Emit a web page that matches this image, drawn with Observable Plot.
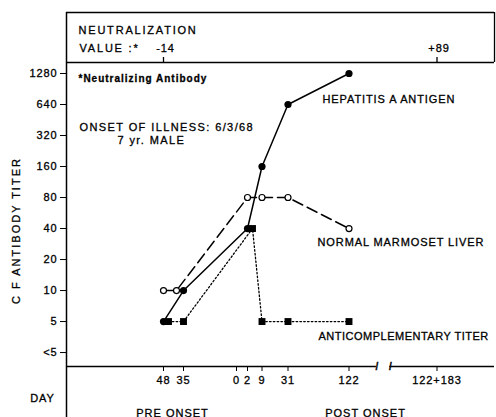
<!DOCTYPE html>
<html>
<head>
<meta charset="utf-8">
<script src="https://cdn.jsdelivr.net/npm/d3@7"></script>
<script src="https://cdn.jsdelivr.net/npm/@observablehq/plot@0.6"></script>
<style>
  body { margin: 0; background: #fff; }
  #chart svg text { letter-spacing: 0.9px; stroke: #000; stroke-width: 0.3px; }
  #chart g[aria-description="wide"] text { letter-spacing: 1.8px; }
  #chart g[aria-description="onset"] text { letter-spacing: 1.4px; }
  #chart g[aria-description="ylabel"] text { letter-spacing: 2px; }
  #chart g[aria-description="note"] text { letter-spacing: 1px; }
  #chart g[aria-description="tight"] text { letter-spacing: 0.5px; }
</style>
</head>
<body>
<div id="chart"></div>
<script>
// ---- data ----
const days = [-48, -35, 2, 9, 31, 122];               // negative = days pre onset
const hepatitisA = [5, 10, 40, 160, 640, 1280];
const marmosetLiver = [10, 10, 80, 80, 80, 40];
const anticomplementary = [5, 5, 40, 5, 5, 5];
const dayTicks = [-48, -35, 0, 2, 9, 31, 122, 305];
const dayLabels = ["48", "35", "0", "2", "9", "31", "122", "122+183"];
const titerTicks = [1280, 640, 320, 160, 80, 40, 20, 10, 5, 2.5];
const titerLabels = ["1280", "640", "320", "160", "80", "40", "20", "10", "5", "<5"];
const neutDays = [-48, 305];
const neutValues = ["-14", "+89"];

// ---- non-uniform day axis (piecewise scale) ----
const xDomain = [-111, -48, -35, 0, 2, 9, 31, 122, 305, 423];
const xRange = [66, 163, 183, 236, 247, 261.5, 287.5, 348.5, 436.5, 494];
const yDomain = [1.83, 1637];
const axisBreak = [179, 207];

const xs = Plot.scale({x: {type: "linear", domain: xDomain, range: xRange}});
const nudge = (day, px) => xs.invert(xs.apply(day) + px);

const rows = (vals) => days.map((d, i) => ({day: d, value: vals[i], i}));
const hep = rows(hepatitisA).map(r => ({...r, x: r.day}));
const mar = rows(marmosetLiver).map(r => ({...r, x: r.i === 1 ? nudge(r.day, -7) : r.day}));
const ant = rows(anticomplementary).map(r => ({...r, x: (r.i === 0 || r.i === 2) ? nudge(r.day, 5) : r.day}));

const txt = (s, o) => Plot.text([s], {text: d => d, textAnchor: "start", lineAnchor: "bottom", fill: "#000", ...o});

const chart = Plot.plot({
  width: 496,
  height: 417,
  marginLeft: 66,
  marginRight: 2,
  marginTop: 62,
  marginBottom: 51,
  style: {fontFamily: "'Liberation Sans', Arial, sans-serif", fontSize: "11px", color: "#000", background: "#fff"},
  x: {type: "linear", domain: xDomain, range: xRange, ticks: dayTicks,
      tickFormat: d => dayLabels[dayTicks.indexOf(d)], tickSize: 5, tickPadding: 5, label: null},
  y: {type: "log", base: 2, domain: yDomain, ticks: titerTicks,
      tickFormat: d => titerLabels[titerTicks.indexOf(d)], tickSize: 6, tickPadding: 3, label: null},
  marks: [
    // frame lines
    Plot.ruleX([xDomain[0]], {insetTop: -50, insetBottom: -51, strokeWidth: 1.5}),
    Plot.ruleY([yDomain[1]], {strokeWidth: 1.3}),
    Plot.ruleY([yDomain[1]], {dy: -50, strokeWidth: 1.3}),
    Plot.ruleX([xDomain[xDomain.length - 1]], {insetTop: -50, insetBottom: 304, strokeWidth: 1.3}),
    Plot.ruleX(neutDays, {insetTop: -5, insetBottom: 304, strokeWidth: 1.3}),
    Plot.ruleY([yDomain[0]], {x1: xDomain[0], x2: axisBreak[0], strokeWidth: 1.5}),
    Plot.ruleY([yDomain[0]], {x1: axisBreak[1], x2: xDomain[xDomain.length - 1], strokeWidth: 1.5}),
    Plot.text(axisBreak, {x: d => d, y: yDomain[0], text: () => "/", fontSize: 10, fontWeight: "bold", dx: 1}),
    // series
    Plot.line(hep, {x: "x", y: "value", stroke: "#000", strokeWidth: 1.5}),
    Plot.line(mar, {x: "x", y: "value", stroke: "#000", strokeWidth: 1.5, strokeDasharray: "11,5"}),
    Plot.line(ant, {x: "x", y: "value", stroke: "#000", strokeWidth: 1.3, strokeDasharray: "1.6,2.2"}),
    Plot.dot(hep, {x: "x", y: "value", r: 3.6, fill: "#000", stroke: null}),
    Plot.dot(ant, {x: "x", y: "value", r: 3.9, symbol: "square", fill: "#000", stroke: null}),
    Plot.dot(mar, {x: "x", y: "value", r: 3, fill: "#fff", stroke: "#000", strokeWidth: 1.2}),
    // neutralization box
    txt("NEUTRALIZATION", {frameAnchor: "top-left", dx: 12, dy: -29, ariaDescription: "wide"}),
    txt("VALUE :*", {frameAnchor: "top-left", dx: 13, dy: -11, ariaDescription: "wide"}),
    Plot.text(neutDays, {x: d => d, text: (d, i) => neutValues[i], frameAnchor: "top", dy: -11, dx: 2, lineAnchor: "bottom", fill: "#000"}),
    // annotations
    txt("*Neutralizing Antibody", {frameAnchor: "top-left", dx: 12, dy: 19, fontSize: 10, fontWeight: "bold", ariaDescription: "note"}),
    txt("ONSET OF ILLNESS: 6/3/68", {frameAnchor: "top-left", dx: 13, dy: 68, ariaDescription: "onset"}),
    txt("7 yr. MALE", {frameAnchor: "top-left", dx: 51, dy: 81, ariaDescription: "onset"}),
    txt("HEPATITIS A ANTIGEN", {frameAnchor: "top-left", dx: 256, dy: 40}),
    txt("NORMAL MARMOSET LIVER", {frameAnchor: "top-left", dx: 251, dy: 183}),
    txt("ANTICOMPLEMENTARY TITER", {frameAnchor: "top-left", dx: 252, dy: 277, ariaDescription: "tight"}),
    // axis titles
    txt("C F ANTIBODY TITER", {frameAnchor: "left", rotate: -90, dx: -47, dy: 16, textAnchor: "middle", ariaDescription: "ylabel"}),
    txt("DAY", {frameAnchor: "bottom-left", dx: -24, dy: 35, textAnchor: "middle"}),
    txt("PRE ONSET", {frameAnchor: "bottom-left", dx: 106, dy: 50, textAnchor: "middle", ariaDescription: "note"}),
    txt("POST ONSET", {frameAnchor: "bottom-left", dx: 299, dy: 50, textAnchor: "middle", ariaDescription: "note"})
  ]
});
document.getElementById("chart").appendChild(chart);
</script>
</body>
</html>
